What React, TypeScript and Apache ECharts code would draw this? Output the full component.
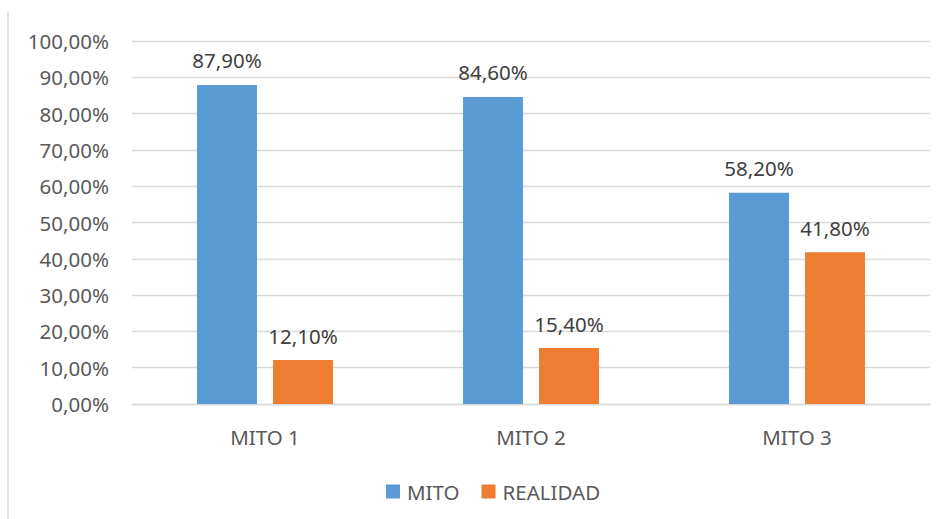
import React, { useEffect, useRef } from "react";
import * as echarts from "echarts";

const categories = ["MITO 1", "MITO 2", "MITO 3"];
const mitoValues = [87.9, 84.6, 58.2];
const realidadValues = [12.1, 15.4, 41.8];
const seriesNames = ["MITO", "REALIDAD"];

const fmt = (v: number) => v.toFixed(2).replace(".", ",") + "%";

export default function App() {
  const ref = useRef<HTMLDivElement>(null);
  useEffect(() => {
    if (!ref.current) return;
    const chart = echarts.init(ref.current, null, { renderer: "svg" });
    const font = "'Noto Sans', sans-serif";
    const fs = 20.5;
    chart.setOption({
      animation: false,
      backgroundColor: "#ffffff",
      textStyle: { fontFamily: font },
      grid: { left: 132, right: 15, top: 41, bottom: 115, containLabel: false },
      legend: {
        data: seriesNames,
        left: 381,
        top: 476,
        icon: "rect",
        itemWidth: 14,
        itemHeight: 14,
        itemGap: 22,
        textStyle: { fontSize: fs, color: "#595959", fontFamily: font, padding: [0, 0, 0, 2] },
      },
      graphic: [
        {
          type: "line",
          shape: { x1: 8, y1: 12, x2: 8, y2: 519 },
          style: { stroke: "#d9d9d9", lineWidth: 1.5 },
        },
      ],
      xAxis: {
        type: "category",
        data: categories,
        axisLine: { lineStyle: { color: "#d9d9d9", width: 1.3 } },
        axisTick: { show: false },
        axisLabel: { color: "#595959", fontSize: fs, margin: 22, fontFamily: font },
      },
      yAxis: {
        type: "value",
        min: 0,
        max: 100,
        interval: 10,
        axisLine: { show: false },
        axisTick: { show: false },
        splitLine: { lineStyle: { color: "#d9d9d9", width: 1.3 } },
        axisLabel: {
          color: "#595959",
          fontSize: fs,
          margin: 23,
          fontFamily: font,
          formatter: (v: number) => fmt(v),
        },
      },
      series: [
        {
          name: seriesNames[0],
          type: "bar",
          data: mitoValues,
          barWidth: 60,
          barGap: "26.7%",
          itemStyle: { color: "#5b9bd5" },
          label: {
            show: true,
            position: "top",
            distance: 14,
            color: "#404040",
            fontSize: fs,
            fontFamily: font,
            formatter: (p: any) => fmt(p.value),
          },
        },
        {
          name: seriesNames[1],
          type: "bar",
          data: realidadValues,
          barWidth: 60,
          itemStyle: { color: "#ed7d31" },
          label: {
            show: true,
            position: "top",
            distance: 14,
            color: "#404040",
            fontSize: fs,
            fontFamily: font,
            formatter: (p: any) => fmt(p.value),
          },
        },
      ],
    });
    return () => chart.dispose();
  }, []);
  return (
    <div
      ref={ref}
      style={{ position: "absolute", left: 0, top: 0, width: 945, height: 519 }}
    />
  );
}
